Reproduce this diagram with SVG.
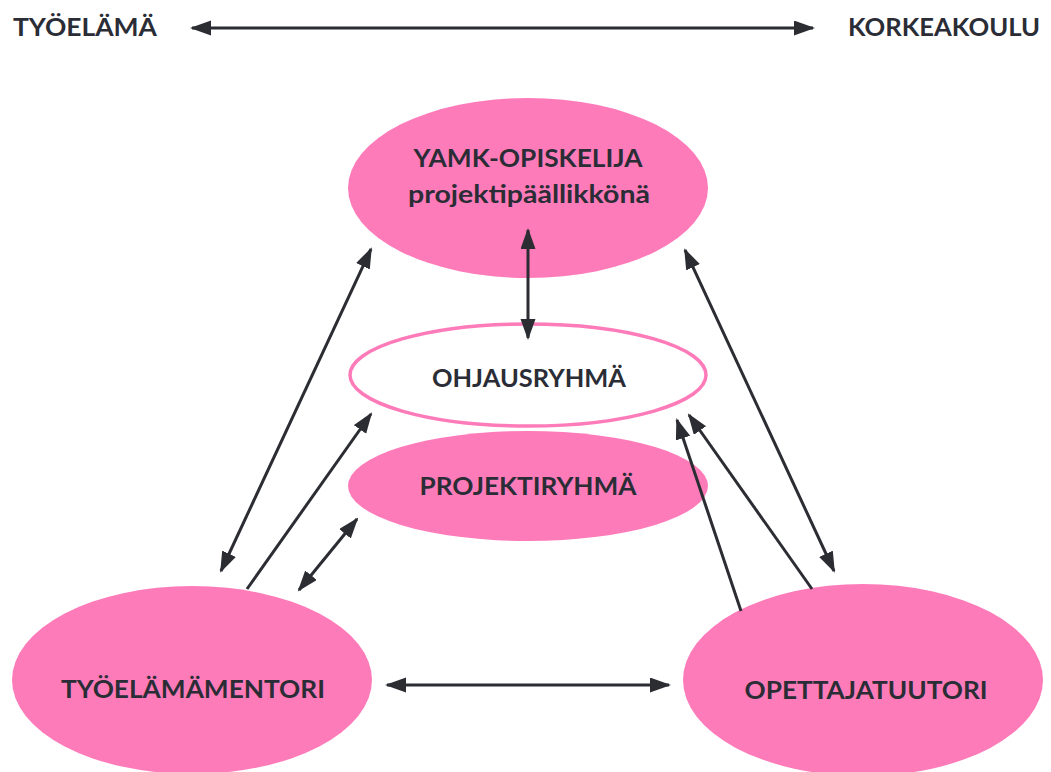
<svg xmlns="http://www.w3.org/2000/svg" width="1051" height="772" viewBox="0 0 1051 772">
<style>
.fill{fill:#fe7bb9}
.outline{fill:#ffffff;stroke:#fe7bb9;stroke-width:3.5}
text{font-family:Lato,"Open Sans","Liberation Sans",sans-serif;font-weight:bold;fill:#2b2d36;text-anchor:middle}
.lbl{font-size:25px}
.hdr{font-size:25px}
.conn line{stroke:#2b2d33;stroke-width:3;fill:none}
</style>
<defs>
<marker id="ah" markerUnits="userSpaceOnUse" markerWidth="22" markerHeight="16" refX="19" refY="7.5" orient="auto-start-reverse" viewBox="0 0 22 16">
<path d="M0,0 L21,7.5 L0,15 z" fill="#2b2d33"/>
</marker>
</defs>
<rect width="1051" height="772" fill="#ffffff"/>
<g id="header">
<text class="hdr" x="85" y="36" textLength="144" lengthAdjust="spacingAndGlyphs">TYÖELÄMÄ</text>
<text class="hdr" x="944" y="36" textLength="192" lengthAdjust="spacingAndGlyphs">KORKEAKOULU</text>
</g>
<g id="yamk">
<ellipse class="fill" cx="528" cy="188" rx="180" ry="90"/>
<text class="lbl" x="528" y="167" textLength="229" lengthAdjust="spacingAndGlyphs">YAMK-OPISKELIJA</text>
<text class="lbl" x="529" y="203" textLength="242" lengthAdjust="spacingAndGlyphs">projektipäällikkönä</text>
</g>
<g id="ohjausryhma">
<ellipse class="outline" cx="528" cy="375" rx="178" ry="51"/>
<text class="lbl" x="529" y="387" textLength="194" lengthAdjust="spacingAndGlyphs">OHJAUSRYHMÄ</text>
</g>
<g id="projektiryhma">
<ellipse class="fill" cx="528" cy="486" rx="180" ry="55"/>
<text class="lbl" x="528" y="495" textLength="217" lengthAdjust="spacingAndGlyphs">PROJEKTIRYHMÄ</text>
</g>
<g id="tyoelamamentori">
<ellipse class="fill" cx="192" cy="680" rx="180" ry="94"/>
<text class="lbl" x="193" y="698" textLength="264" lengthAdjust="spacingAndGlyphs">TYÖELÄMÄMENTORI</text>
</g>
<g id="opettajatuutori">
<ellipse class="fill" cx="863" cy="680" rx="180" ry="96"/>
<text class="lbl" x="866" y="699" textLength="243" lengthAdjust="spacingAndGlyphs">OPETTAJATUUTORI</text>
</g>
<g class="conn" id="connectors">
<line x1="192" y1="28" x2="813" y2="28" marker-start="url(#ah)" marker-end="url(#ah)"/>
<line x1="528" y1="230" x2="528" y2="338" marker-start="url(#ah)" marker-end="url(#ah)"/>
<line x1="221" y1="571" x2="371" y2="249" marker-start="url(#ah)" marker-end="url(#ah)"/>
<line x1="247" y1="589" x2="371" y2="414" marker-end="url(#ah)"/>
<line x1="299" y1="590" x2="357" y2="519" marker-start="url(#ah)" marker-end="url(#ah)"/>
<line x1="387" y1="685" x2="669" y2="685" marker-start="url(#ah)" marker-end="url(#ah)"/>
<line x1="834" y1="571" x2="685" y2="250" marker-start="url(#ah)" marker-end="url(#ah)"/>
<line x1="741" y1="611" x2="677" y2="420" marker-end="url(#ah)"/>
<line x1="812" y1="589" x2="689" y2="415" marker-end="url(#ah)"/>
</g>
</svg>
